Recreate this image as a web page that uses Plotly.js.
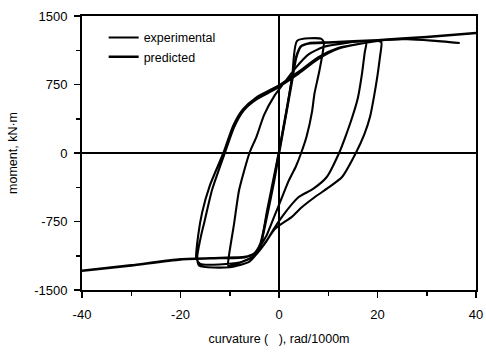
<!DOCTYPE html>
<html>
<head>
<meta charset="utf-8">
<script src="https://cdn.plot.ly/plotly-3.0.1.min.js"></script>
<style>html,body{margin:0;padding:0;background:#fff;}#chart{width:486px;height:354px;}</style>
</head>
<body>
<div id="chart"></div>
<script>
// Experimental hysteresis path (curvature rad/1000m, moment kN·m)
var expCurv = [-5.5,-3.7,-2.5,-1,0.3,1.5,2.7,3.7,8.6,9.1,8.2,7.2,6.7,5.6,4.5,3.4,2,0.5,-1,-2.5,-3.7,-5,-7,-10.3,
  -10.2,-9.1,-8.1,-6,-4.6,-3,-1,1.5,3.5,6,9,13,17.7,
  17.4,16.8,16,14.8,13.5,12.2,9.7,7,4,2,0.6,-0.8,-2.5,-4,-6,-10,-16.2,
  -16.6,-15.8,-15.2,-13.6,-11,-9.1,-7.1,-4.5,-1.4,0,4,8,12,16,20.3,
  20.8,20.5,20,19.3,18.5,17.3,15.6,12.8,10,7.3,4.5,2.6,-0.8,-3,-5,-8,-16,
  -16.8,-16.4,-15.6,-14,-11.3,-9.3,-7.3,-4.7,-1.6,0,4,8,12,18,22,26,31,36.7];
var expMoment = [-1160,-1000,-650,-250,100,450,850,1230,1250,1210,900,650,450,180,0,-150,-300,-500,-700,-900,-1010,-1120,-1180,-1235,
  -1140,-767,-405,0,175,420,620,800,940,1080,1160,1200,1220,
  1100,850,600,380,180,0,-263,-390,-482,-600,-700,-810,-960,-1070,-1190,-1250,-1235,
  -1140,-900,-767,-405,0,285,470,590,680,725,870,1030,1140,1190,1225,
  1210,1050,850,620,400,200,0,-263,-380,-482,-600,-700,-830,-1000,-1130,-1200,-1215,
  -1150,-900,-650,-350,0,300,480,605,695,740,890,1050,1150,1210,1240,1245,1230,1204];

// Predicted backbone
var predCurv = [-40,-30,-20,-12,-7,-5,-3.8,-2.5,-1,0,1,2.5,3.5,4.5,6,10,20,30,40];
var predMoment = [-1290,-1230,-1165,-1150,-1140,-1100,-1000,-700,-300,0,300,750,1050,1170,1200,1210,1235,1270,1314];

var seriesNames = ['experimental','predicted'];
var xTicks = [-40,-20,0,20,40];
var yTicks = [-1500,-750,0,750,1500];

var font = {family:'Liberation Sans, Arial, sans-serif', size:12, color:'#000'};

var traces = [
  {x:expCurv, y:expMoment, mode:'lines', name:seriesNames[0], line:{color:'#000', width:2.1, shape:'spline', smoothing:0.6}},
  {x:predCurv, y:predMoment, mode:'lines', name:seriesNames[1], line:{color:'#000', width:2.6, shape:'spline', smoothing:0.6}}
];

var layout = {
  width:486, height:354,
  margin:{l:82, r:10, t:16, b:64},
  paper_bgcolor:'#fff', plot_bgcolor:'#fff',
  font:font,
  showlegend:true,
  legend:{x:0.055, y:0.975, xanchor:'left', yanchor:'top', bgcolor:'rgba(0,0,0,0)', borderwidth:0, font:{family:font.family, size:12.5, color:'#000'}, tracegroupgap:0, itemwidth:30},
  xaxis:{range:[-40,40], tickvals:xTicks, ticktext:xTicks.map(String), ticks:'outside', ticklen:6, tickwidth:1.5, tickcolor:'#000',
    minor:{dtick:10, tick0:0, ticks:'outside', ticklen:4, tickwidth:1.5, tickcolor:'#000', showgrid:false},
    showline:true, linecolor:'#000', linewidth:2, mirror:true, showgrid:false,
    zeroline:true, zerolinecolor:'#000', zerolinewidth:1.5,
    ticklabelstandoff:5,
    tickfont:{family:font.family, size:13, color:'#000'},
    title:{text:'curvature (   ), rad/1000m', font:{family:font.family, size:12.5, color:'#000'}, standoff:14}, automargin:false},
  yaxis:{range:[-1500,1500], tickvals:yTicks, ticktext:yTicks.map(String), ticks:'outside', ticklen:6, tickwidth:1.5, tickcolor:'#000',
    minor:{dtick:375, tick0:0, ticks:'outside', ticklen:4, tickwidth:1.5, tickcolor:'#000', showgrid:false},
    showline:true, linecolor:'#000', linewidth:2, mirror:true, showgrid:false,
    zeroline:true, zerolinecolor:'#000', zerolinewidth:1.5,
    ticklabelstandoff:4,
    tickfont:{family:font.family, size:13, color:'#000'},
    title:{text:'moment, kN·m', font:{family:font.family, size:12.5, color:'#000'}, standoff:14}, automargin:false}
};

Plotly.newPlot('chart', traces, layout, {displayModeBar:false, staticPlot:true});
</script>
</body>
</html>
